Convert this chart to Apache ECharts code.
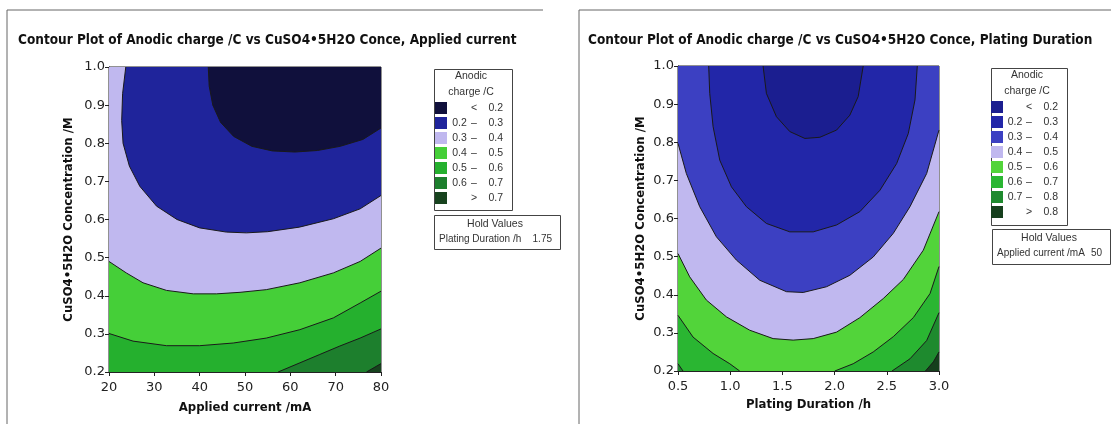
<!DOCTYPE html>
<html>
<head>
<meta charset="utf-8">
<script src="https://cdn.jsdelivr.net/npm/echarts@6/dist/echarts.min.js"></script>
<style>
html, body { margin: 0; padding: 0; background: #fff; }
#chart { width: 1111px; height: 424px; }
</style>
</head>
<body>
<div id="chart"></div>
<script>
// ---- data ----
var titleL = 'Contour Plot of Anodic charge /C vs CuSO4\u20225H2O Conce, Applied current';
var titleR = 'Contour Plot of Anodic charge /C vs CuSO4\u20225H2O Conce, Plating Duration';
var yName = 'CuSO4\u20225H2O Concentration /M';
var xNameL = 'Applied current /mA';
var xNameR = 'Plating Duration /h';
var xRangeL = [20, 80];
var xRangeR = [0.5, 3.0];
var yRange = [0.2, 1.0];
var holdL = ['Plating Duration /h', '1.75'];
var holdR = ['Applied current /mA', '50'];

// band labels, low to high
var bandsL = [['', '<', '0.2'], ['0.2', '\u2013', '0.3'], ['0.3', '\u2013', '0.4'], ['0.4', '\u2013', '0.5'],
    ['0.5', '\u2013', '0.6'], ['0.6', '\u2013', '0.7'], ['', '>', '0.7']];
var bandsR = [['', '<', '0.2'], ['0.2', '\u2013', '0.3'], ['0.3', '\u2013', '0.4'], ['0.4', '\u2013', '0.5'],
    ['0.5', '\u2013', '0.6'], ['0.6', '\u2013', '0.7'], ['0.7', '\u2013', '0.8'], ['', '>', '0.8']];

// contour lines, left chart (x = applied current, y = concentration)
var contL02 = [[41.9, 1.0], [42.1, 0.95], [42.9, 0.90], [44.6, 0.855], [47.5, 0.818], [51.5, 0.792], [56, 0.780],
    [61, 0.777], [66, 0.781], [71, 0.792], [76, 0.810], [80, 0.840]];
var contL03 = [[23.7, 1.0], [23.0, 0.93], [22.8, 0.86], [23.1, 0.80], [24.5, 0.74], [26.8, 0.687], [30.5, 0.635],
    [35, 0.600], [40, 0.578], [45.9, 0.567], [50.3, 0.565], [55, 0.568], [62, 0.580], [69.5, 0.602], [75.4, 0.628], [80, 0.663]];
var contL04 = [[20, 0.490], [23.8, 0.460], [27.5, 0.434], [32.7, 0.414], [38.6, 0.405], [43.7, 0.405], [48.9, 0.409],
    [54.7, 0.416], [62.1, 0.434], [69.5, 0.460], [75.4, 0.490], [80, 0.525]];
var contL05 = [[20, 0.301], [25.3, 0.281], [32.7, 0.269], [40, 0.269], [47.4, 0.276], [54.7, 0.289], [62.1, 0.311],
    [69.5, 0.342], [75.4, 0.381], [80, 0.412]];
var contL06 = [[57.3, 0.2], [62.1, 0.224], [66.5, 0.246], [70.9, 0.268], [75.4, 0.289], [80, 0.313]];
var contL07 = [[76.8, 0.2], [80, 0.222]];

// contour lines, right chart (x = plating duration)
var contR02 = [[1.315, 1.0], [1.347, 0.928], [1.443, 0.867], [1.571, 0.828], [1.715, 0.810], [1.859, 0.813],
    [2.019, 0.832], [2.146, 0.871], [2.226, 0.920], [2.274, 1.0]];
var contR03 = [[0.794, 1.0], [0.804, 0.928], [0.836, 0.841], [0.900, 0.753], [1.012, 0.683], [1.155, 0.631],
    [1.347, 0.587], [1.571, 0.565], [1.795, 0.565], [2.019, 0.583], [2.242, 0.618], [2.434, 0.674], [2.594, 0.744],
    [2.706, 0.823], [2.770, 0.911], [2.792, 1.0]];
var contR04 = [[0.5, 0.797], [0.580, 0.718], [0.708, 0.631], [0.868, 0.552], [1.059, 0.491], [1.283, 0.438],
    [1.539, 0.408], [1.699, 0.406], [1.923, 0.421], [2.146, 0.451], [2.370, 0.499], [2.562, 0.561], [2.722, 0.631],
    [2.882, 0.718], [3.0, 0.832]];
var contR05 = [[0.5, 0.508], [0.612, 0.447], [0.772, 0.386], [0.964, 0.342], [1.187, 0.307], [1.411, 0.285],
    [1.603, 0.281], [1.795, 0.285], [2.019, 0.302], [2.242, 0.340], [2.466, 0.390], [2.658, 0.440], [2.850, 0.517], [3.0, 0.618]];
var contR06a = [[0.5, 0.346], [0.644, 0.289], [0.836, 0.246], [0.996, 0.219], [1.091, 0.2]];
var contR06b = [[2.002, 0.2], [2.178, 0.219], [2.370, 0.250], [2.562, 0.290], [2.754, 0.340], [2.914, 0.403], [3.0, 0.474]];
var contR07a = [[0.5, 0.219], [0.548, 0.2]];
var contR07b = [[2.550, 0.2], [2.722, 0.232], [2.882, 0.280], [3.0, 0.353]];
var contR08 = [[2.870, 0.2], [2.946, 0.224], [3.0, 0.250]];

// ---- styles ----
var colorsL = ['#10103c', '#1f249b', '#c0b8ef', '#45cf38', '#25b02e', '#1d7f2d', '#17431e'];
var colorsR = ['#1b1e90', '#2226a8', '#3c40c2', '#c0b8ef', '#52d43a', '#2ab632', '#1e8a2e', '#163f1d'];
var font = "'DejaVu Sans Condensed', 'DejaVu Sans', sans-serif";
var smallFont = "'Liberation Sans', Arial, sans-serif";
var tickFont = "'DejaVu Sans', sans-serif";
var lineColor = '#1a1a1a';

// region "value below a level": contour pieces joined through plot corners
function regionPath(parts, xr, yr) {
    var corner = { bl: [xr[0], yr[0]], br: [xr[1], yr[0]], tr: [xr[1], yr[1]], tl: [xr[0], yr[1]] };
    var out = [];
    parts.forEach(function (p) {
        if (typeof p === 'string') out.push(corner[p]);
        else out = out.concat(p);
    });
    return out;
}

function bandName(prefix, b) { return prefix + b.join(' '); }

function polySeries(name, color, pts, gi) {
    return {
        type: 'custom', name: name, xAxisIndex: gi, yAxisIndex: gi, silent: true,
        itemStyle: { color: color },
        data: pts,
        clip: true,
        renderItem: function (params, api) {
            if (params.dataIndex !== 0) return;
            var points = pts.map(function (p) { return api.coord(p); });
            return { type: 'polygon', shape: { points: points }, style: { fill: color } };
        }
    };
}

function lineSeries(pts, gi) {
    return {
        type: 'line', xAxisIndex: gi, yAxisIndex: gi, data: pts, silent: true,
        symbol: 'none', clip: true, z: 5,
        lineStyle: { color: lineColor, width: 1 }
    };
}

var series = [];
// left: paint from highest band down to lowest
var pathsL = [
    ['bl', 'br', 'tr', 'tl'],
    [contL07, 'tr', 'tl', 'bl'],
    [contL06, 'tr', 'tl', 'bl'],
    [contL05, 'tr', 'tl'],
    [contL04, 'tr', 'tl'],
    [contL03, 'tr'],
    [contL02, 'tr']
];
pathsL.forEach(function (p, i) {
    var bi = bandsL.length - 1 - i;
    series.push(polySeries(bandName('L', bandsL[bi]), colorsL[bi], regionPath(p, xRangeL, yRange), 0));
});
[contL02, contL03, contL04, contL05, contL06, contL07].forEach(function (c) { series.push(lineSeries(c, 0)); });

var pathsR = [
    ['bl', 'br', 'tr', 'tl'],
    [contR08, 'tr', 'tl', 'bl'],
    [contR07b, 'tr', 'tl', contR07a],
    [contR06b, 'tr', 'tl', contR06a],
    [contR05, 'tr', 'tl'],
    [contR04, 'tr', 'tl'],
    [contR03],
    [contR02]
];
pathsR.forEach(function (p, i) {
    var bi = bandsR.length - 1 - i;
    series.push(polySeries(bandName('R', bandsR[bi]), colorsR[bi], regionPath(p, xRangeR, yRange), 1));
});
[contR02, contR03, contR04, contR05, contR06a, contR06b, contR07a, contR07b, contR08].forEach(function (c) {
    series.push(lineSeries(c, 1));
});

function axisCommon() {
    return {
        type: 'value',
        splitLine: { show: false },
        axisLine: { show: true, onZero: false, lineStyle: { color: '#222', width: 1 } },
        axisTick: { show: true, inside: false, length: 4, lineStyle: { color: '#222' } },
        axisLabel: { fontFamily: tickFont, fontSize: 13, color: '#222', margin: 4 },
        nameLocation: 'middle',
        nameTextStyle: { fontFamily: font, fontWeight: 'bold', fontSize: 13, color: '#111' }
    };
}

function xAxis(gi, range, interval, name, fmt, gap) {
    return Object.assign(axisCommon(), {
        gridIndex: gi, min: range[0], max: range[1], interval: interval, name: name, nameGap: gap,
        axisLabel: Object.assign(axisCommon().axisLabel, { formatter: fmt, margin: 9 })
    });
}
function yAxis(gi, gap) {
    return Object.assign(axisCommon(), {
        gridIndex: gi, min: yRange[0], max: yRange[1], interval: 0.1, name: yName, nameGap: gap,
        axisLabel: Object.assign(axisCommon().axisLabel, { formatter: function (v) { return v.toFixed(1); } })
    });
}

function legendRich(wa, wb, wc) {
    var base = { fontFamily: smallFont, fontSize: 10.5, color: '#333' };
    return {
        a: Object.assign({ width: wa, align: 'right' }, base),
        b: Object.assign({ width: wb, align: 'center' }, base),
        c: Object.assign({ width: wc, align: 'right' }, base)
    };
}
function legend(prefix, bands, left, top, rich) {
    return {
        orient: 'vertical', left: left, top: top, itemWidth: 12, itemHeight: 12, itemGap: 3,
        icon: 'rect', selectedMode: false, padding: 0,
        data: bands.map(function (b) { return bandName(prefix, b); }),
        formatter: function (n) {
            var b = bands.filter(function (x) { return bandName(prefix, x) === n; })[0];
            return '{a|' + b[0] + '}{b|' + b[1] + '}{c|' + b[2] + '}';
        },
        textStyle: { rich: rich }
    };
}

function legendBox(x, y, w, h, hx, hy, hw, hh, hold) {
    var t = { fontFamily: smallFont, fontSize: 10.5, fill: '#333' };
    var t2 = { fontFamily: smallFont, fontSize: 10, fill: '#333' };
    return [
        { type: 'rect', left: x, top: y, shape: { width: w, height: h }, style: { fill: 'none', stroke: '#444', lineWidth: 1 } },
        { type: 'text', x: x + w / 2, y: y + 9, style: Object.assign({ text: 'Anodic', align: 'center', verticalAlign: 'middle' }, t) },
        { type: 'text', x: x + w / 2, y: y + 25, style: Object.assign({ text: 'charge /C', align: 'center', verticalAlign: 'middle' }, t) },
        { type: 'rect', left: hx, top: hy, shape: { width: hw, height: hh }, style: { fill: 'none', stroke: '#444', lineWidth: 1 } },
        { type: 'text', x: hx + hw / 2, y: hy + 11, style: Object.assign({ text: 'Hold Values', align: 'center', verticalAlign: 'middle' }, t) },
        { type: 'text', x: hx + 7, y: hy + 26, style: Object.assign({ text: hold[0], align: 'left', verticalAlign: 'middle' }, t2) },
        { type: 'text', x: hx + hw - 6, y: hy + 26, style: Object.assign({ text: hold[1], align: 'right', verticalAlign: 'middle' }, t2) }
    ];
}

var graphics = [
    { type: 'polyline', shape: { points: [[7, 424], [7, 10], [543, 10]] }, style: { stroke: '#666', lineWidth: 1, fill: 'none' } },
    { type: 'polyline', shape: { points: [[579, 424], [579, 10], [1111, 10]] }, style: { stroke: '#666', lineWidth: 1, fill: 'none' } }
].concat(legendBox(432, 67, 78, 141, 432, 213, 126, 34, holdL))
 .concat(legendBox(989, 66, 76, 157, 990, 227, 118, 35, holdR));

var titleStyle = { fontFamily: font, fontWeight: 'bold', fontSize: 13.5, color: '#111' };
var chart = echarts.init(document.getElementById('chart'), null, { renderer: 'canvas' });
chart.setOption({
    backgroundColor: '#fff',
    animation: false,
    title: [
        { text: titleL, left: 18, top: 33, padding: 0, textStyle: titleStyle },
        { text: titleR, left: 588, top: 33, padding: 0, textStyle: titleStyle }
    ],
    grid: [
        { left: 109, top: 67, width: 272, height: 305, show: true, borderColor: '#222', borderWidth: 1 },
        { left: 678, top: 66, width: 261, height: 305, show: true, borderColor: '#222', borderWidth: 1 }
    ],
    xAxis: [
        xAxis(0, xRangeL, 10, xNameL, function (v) { return v; }, 29),
        xAxis(1, xRangeR, 0.5, xNameR, function (v) { return v.toFixed(1); }, 26)
    ],
    yAxis: [yAxis(0, 34), yAxis(1, 31)],
    legend: [
        legend('L', bandsL, 435, 102, legendRich(15, 14, 22)),
        legend('R', bandsR, 991, 101, legendRich(14, 14, 22))
    ],
    graphic: graphics,
    series: series
});
</script>
</body>
</html>
